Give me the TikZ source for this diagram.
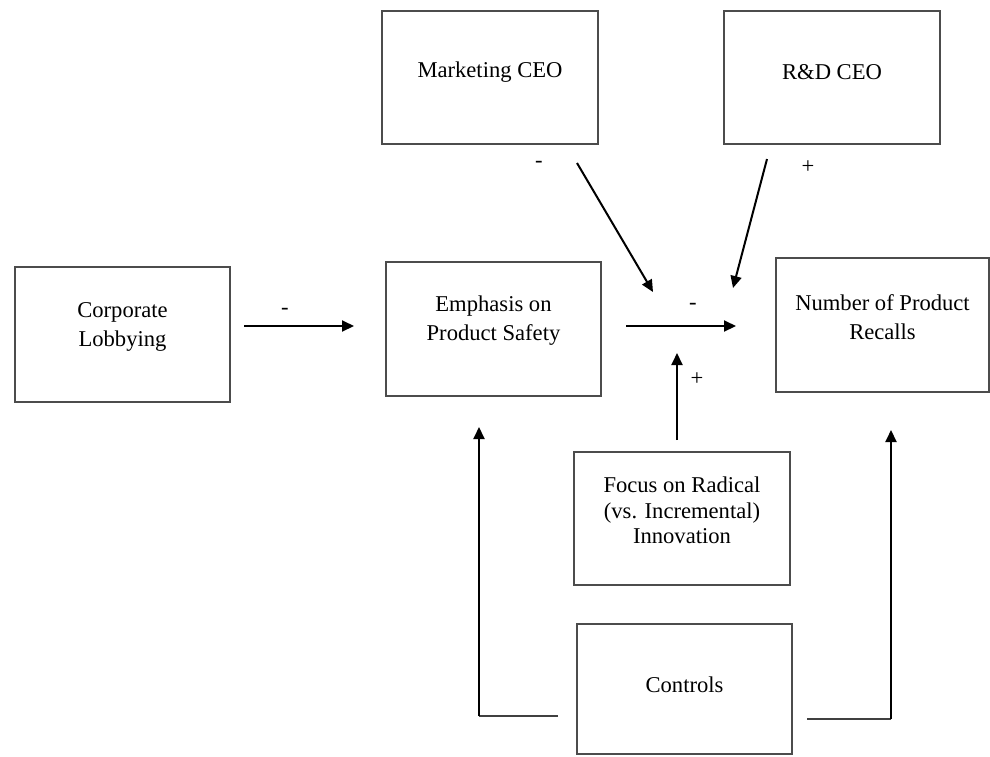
\documentclass[tikz,border=0pt]{standalone}
\usepackage{fontspec}
\setmainfont{Liberation Serif}
\usetikzlibrary{arrows.meta}
\begin{document}
\begin{tikzpicture}[x=0.5pt,y=-0.5pt,
  box/.style={draw=black!70,line width=0.6pt,inner sep=0pt},
  txt/.style={align=center,font=\fontsize{11.3}{14.5}\selectfont,inner sep=0pt},
  arr/.style={draw=black,line width=1pt,-{Triangle[length=6pt,width=5.5pt]}},
  plainline/.style={draw=black!75,line width=0.8pt},
  sign/.style={font=\fontsize{11.3}{13.5}\selectfont,inner sep=0pt}]
\useasboundingbox (0,0) rectangle (990,756);
% boxes
\node[box,minimum width=108pt,minimum height=66.5pt] (mkt) at (490,77.5) {};
\node[box,minimum width=108pt,minimum height=66.5pt] (rnd) at (832,77.5) {};
\node[box,minimum width=107.5pt,minimum height=67.5pt] (lob) at (122.5,334.5) {};
\node[box,minimum width=107.5pt,minimum height=67pt] (emp) at (493.5,329) {};
\node[box,minimum width=106.5pt,minimum height=67pt] (rec) at (882.5,325) {};
\node[box,minimum width=108pt,minimum height=66.5pt] (foc) at (682,518.5) {};
\node[box,minimum width=107.5pt,minimum height=65pt] (ctl) at (684.5,689) {};
% texts
\node[txt] (tmkt) at ([yshift=2.5pt]mkt.center) {Marketing CEO};
\node[txt] (trnd) at ([yshift=2.5pt]rnd.center) {R\&D CEO};
\node[txt] (tlob) at ([yshift=4pt]lob.center) {Corporate\\Lobbying};
\node[txt] (temp) at ([yshift=4pt]emp.center) {Emphasis on\\Product Safety};
\node[txt] (trec) at ([yshift=4pt]rec.center) {Number of Product\\Recalls};
\node[txt,font=\fontsize{11.3}{12.8}\selectfont] (tfoc) at ([yshift=4pt]foc.center) {Focus on Radical\\(vs. Incremental)\\Innovation};
\node[txt] (tctl) at ([yshift=2pt]ctl.center) {Controls};
% connector end points
\coordinate (a1) at (244,326); \coordinate (a2) at (354,326);
\coordinate (b1) at (626,326); \coordinate (b2) at (736,326);
\coordinate (c1) at (577,163); \coordinate (c2) at (653,292);
\coordinate (d1) at (767,159); \coordinate (d2) at (733,288);
\coordinate (e1) at (677,440); \coordinate (e2) at (677,353);
\coordinate (f1) at (558,716); \coordinate (f2) at (479,716); \coordinate (f3) at (479,427);
\coordinate (g1) at (807,719); \coordinate (g2) at (891,719); \coordinate (g3) at (891,430);
% connectors
\draw[arr] (a1) -- (a2);
\draw[arr] (b1) -- (b2);
\draw[arr] (c1) -- (c2);
\draw[arr] (d1) -- (d2);
\draw[arr] (e1) -- (e2);
\draw[plainline] (f1) -- (f2);
\draw[arr] (f2) -- (f3);
\draw[plainline] (g1) -- (g2);
\draw[arr] (g2) -- (g3);
% signs
\node[sign] (s1) at (285,311) {-};
\node[sign] (s2) at (693,306) {-};
\node[sign] (s3) at (539,164) {-};
\node[sign] (s4) at (808,167) {+};
\node[sign] (s5) at (697,379) {+};
\end{tikzpicture}
\end{document}
